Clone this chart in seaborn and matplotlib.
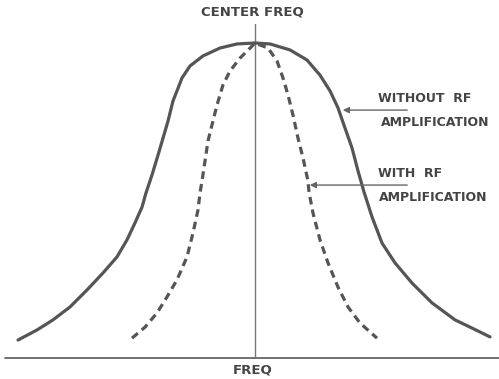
import seaborn as sns
import matplotlib.pyplot as plt
import pandas as pd

# Relative frequency (offset from centre) and normalized response
wide_freq = [-237, -218, -202, -185, -168, -152, -138, -128, -120, -113, -109, -103, -97, -92, -87, -82, -78, -73,
             -65, -52, -35, -18, 0, 15, 35, 52, 65, 75, 83, 90, 97, 103, 109, 117, 127, 140, 157, 177, 200, 217, 235]
wide_resp = [0.057, 0.089, 0.121, 0.162, 0.216, 0.270, 0.321, 0.375, 0.429, 0.479, 0.524, 0.581, 0.644, 0.698, 0.752,
             0.816, 0.848, 0.889, 0.927, 0.959, 0.984, 0.997, 1.0, 0.997, 0.978, 0.946, 0.898, 0.848, 0.794, 0.730,
             0.667, 0.594, 0.527, 0.448, 0.365, 0.302, 0.238, 0.175, 0.121, 0.095, 0.067]

narrow_freq = [-123, -110, -98, -88, -78, -68, -62, -57, -55, -53, -50, -47, -43, -38, -32, -25, -15, -3, 0,
               13, 22, 28, 33, 38, 43, 48, 53, 54, 58, 65, 73, 83, 93, 105, 122]
narrow_resp = [0.063, 0.098, 0.143, 0.194, 0.248, 0.321, 0.397, 0.470, 0.524, 0.562, 0.625, 0.689, 0.740, 0.803,
               0.867, 0.911, 0.952, 0.990, 1.0, 0.984, 0.943, 0.889, 0.835, 0.771, 0.698, 0.635, 0.562, 0.527,
               0.460, 0.375, 0.302, 0.225, 0.162, 0.111, 0.063]

wide_df = pd.DataFrame({'freq': wide_freq, 'resp': wide_resp})
narrow_df = pd.DataFrame({'freq': narrow_freq, 'resp': narrow_resp})

sns.set_style('white')
plt.rcParams['font.family'] = ['DejaVu Sans']

fig = plt.figure(figsize=(4.99, 3.79), dpi=100)
ax = fig.add_axes([0, 0, 1, 1])

line_col = '#555555'
text_col = '#444444'

# axes drawn by hand like the sketch
ax.plot([-250, 244], [0, 0], color='#666666', lw=1.3)
ax.plot([0, 0], [0, 1.06], color='#777777', lw=1.0)

sns.lineplot(data=wide_df, x='freq', y='resp', ax=ax, color=line_col, lw=2.3, estimator=None)
sns.lineplot(data=narrow_df, x='freq', y='resp', ax=ax, color=line_col, lw=2.3, estimator=None,
             linestyle=(0, (2.4, 1.6)))

# arrows and callout labels
ax.annotate('', xy=(85, 0.787), xytext=(155, 0.787),
            arrowprops=dict(arrowstyle='-|>', color='#666666', lw=1.0, mutation_scale=9))
ax.annotate('', xy=(52, 0.549), xytext=(155, 0.549),
            arrowprops=dict(arrowstyle='-|>', color='#666666', lw=1.0, mutation_scale=9))

font = dict(fontsize=9, fontweight='bold', color=text_col)
ax.text(123, 0.825, 'WITHOUT  RF', ha='left', va='center', **font)
ax.text(126, 0.749, 'AMPLIFICATION', ha='left', va='center', **font)
ax.text(123, 0.587, 'WITH  RF', ha='left', va='center', **font)
ax.text(124, 0.511, 'AMPLIFICATION', ha='left', va='center', **font)

font_axis = dict(fontsize=9.5, fontweight='bold', color=text_col)
ax.text(-3, 1.098, 'CENTER FREQ', ha='center', va='center', **font_axis)
ax.text(-2, -0.038, 'FREQ', ha='center', va='center', **font_axis)

ax.set_xlim(-255, 244)
ax.set_ylim(-21 / 315, 358 / 315)
ax.axis('off')

plt.savefig('out.png', dpi=100)
